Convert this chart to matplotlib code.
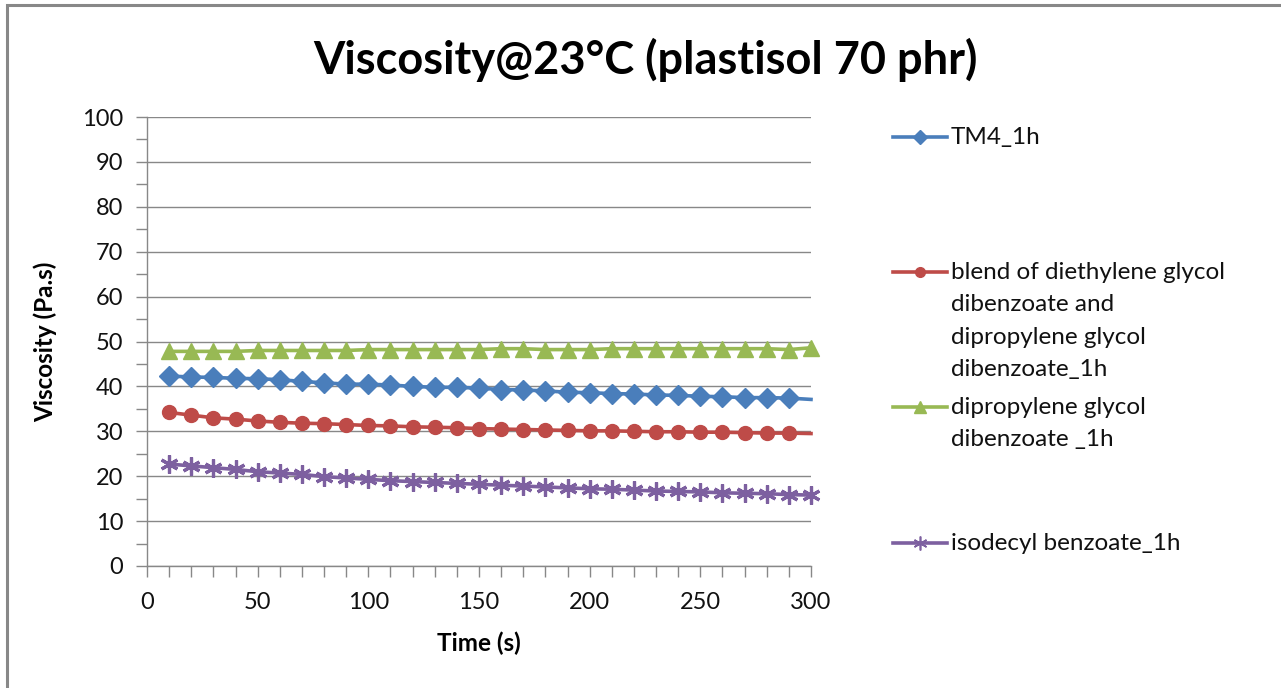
import matplotlib
matplotlib.use("Agg")
import matplotlib.pyplot as plt
from matplotlib.lines import Line2D
from matplotlib.patches import Rectangle
from matplotlib.ticker import MultipleLocator

time_s = [10, 20, 30, 40, 50, 60, 70, 80, 90, 100, 110, 120, 130, 140, 150,
          160, 170, 180, 190, 200, 210, 220, 230, 240, 250, 260, 270, 280, 290, 300]

tm4 = [42.3, 42.1, 42.0, 41.8, 41.7, 41.5, 41.1, 40.8, 40.5, 40.5, 40.3, 40.0, 39.8, 39.8, 39.6,
       39.3, 39.2, 39.0, 38.7, 38.6, 38.4, 38.3, 38.1, 38.0, 37.8, 37.7, 37.5, 37.5, 37.4, 37.1]
blend = [34.2, 33.6, 33.0, 32.7, 32.3, 32.0, 31.8, 31.7, 31.5, 31.3, 31.2, 31.0, 30.9, 30.8, 30.6,
         30.5, 30.4, 30.3, 30.2, 30.1, 30.1, 30.0, 29.9, 29.9, 29.8, 29.8, 29.7, 29.6, 29.6, 29.5]
dpgdb = [47.8, 47.8, 47.8, 47.8, 48.0, 48.0, 48.0, 48.0, 48.0, 48.2, 48.2, 48.2, 48.2, 48.2, 48.2,
         48.4, 48.4, 48.2, 48.2, 48.2, 48.4, 48.4, 48.4, 48.4, 48.4, 48.4, 48.4, 48.4, 48.2, 48.6]
isodecyl = [22.7, 22.3, 21.9, 21.5, 21.0, 20.7, 20.4, 19.9, 19.6, 19.3, 19.0, 18.8, 18.6, 18.4, 18.2,
            18.0, 17.8, 17.6, 17.4, 17.2, 17.1, 16.9, 16.7, 16.6, 16.5, 16.3, 16.2, 16.1, 15.9, 15.8]

labels = ["TM4_1h",
          "blend of diethylene glycol\ndibenzoate and\ndipropylene glycol\ndibenzoate_1h",
          "dipropylene glycol\ndibenzoate _1h",
          "isodecyl benzoate_1h"]
colors = ["#4A7EBB", "#BE4B48", "#98B954", "#7D60A0"]

title = "Viscosity@23°C (plastisol 70 phr)"
xlabel = "Time (s)"
ylabel = "Viscosity (Pa.s)"

plt.rcParams['font.family'] = ['Lato', 'DejaVu Sans']

W, H = 1281, 688
fig = plt.figure(figsize=(W / 100, H / 100), dpi=100)
ax = fig.add_axes([147 / W, 1 - 566 / H, (811 - 147) / W, (566 - 117) / H])

star = (6, 2, 0)
series = [
    (tm4, dict(marker="D", ms=10, markevery=slice(0, 29))),
    (blend, dict(marker="o", ms=10, markevery=slice(0, 29))),
    (dpgdb, dict(marker="^", ms=11)),
    (isodecyl, dict(marker=star, ms=13, mew=2.3)),
]
for (vals, kw), c in zip(series, colors):
    ax.plot(time_s, vals, color=c, lw=2.6, mec=c, mfc=c, clip_on=False, zorder=3, **kw)

ax.set_xlim(0, 300)
ax.set_ylim(0, 100)
ax.xaxis.set_major_locator(MultipleLocator(50))
ax.xaxis.set_minor_locator(MultipleLocator(10))
ax.yaxis.set_major_locator(MultipleLocator(10))
ax.yaxis.set_minor_locator(MultipleLocator(5))
grid_c = "#888888"
ax.grid(axis="y", which="major", color=grid_c, lw=1.0)
ax.set_axisbelow(True)
for s in ["top", "right"]:
    ax.spines[s].set_visible(False)
for s in ["left", "bottom"]:
    ax.spines[s].set_color(grid_c)
    ax.spines[s].set_linewidth(1.0)
ax.tick_params(which="both", direction="out", length=8, width=1.0, color=grid_c,
               labelsize=17, labelcolor="#111111")
ax.tick_params(axis="y", pad=9)
ax.tick_params(axis="x", pad=11)

ax.set_xlabel(xlabel, fontsize=17.5, fontweight="bold", labelpad=13)
ax.set_ylabel(ylabel, fontsize=17.5, fontweight="bold", labelpad=18)
fig.text(645 / W, 1 - 60 / H, title, fontsize=32.5, fontweight="bold", ha="center", va="center")

# Legend drawn manually (Excel-style stretched legend)
leg_y = [137, 272, 407, 543]
legend_markers = [dict(marker="D", ms=7), dict(marker="o", ms=7), dict(marker="^", ms=8),
                  dict(marker=star, ms=10, mew=1.2)]
for lab, c, y, mk in zip(labels, colors, leg_y, legend_markers):
    yf = 1 - y / H
    fig.add_artist(Line2D([893 / W, 947 / W], [yf, yf], transform=fig.transFigure,
                          color=c, lw=2.6))
    fig.add_artist(Line2D([920 / W], [yf], transform=fig.transFigure, color=c,
                          mfc=c, mec=c, ls="none", **mk))
    fig.text(951 / W, 1 - (y - 10) / H, lab, fontsize=17.5, ha="left", va="top",
             linespacing=1.67, color="#111111")

fig.add_artist(Rectangle((7 / W, -0.05), 1.2, 1 - 5 / H + 0.05, transform=fig.transFigure,
                         fill=False, ec="#888888", lw=2.2))

fig.savefig("out.png", dpi=100)
